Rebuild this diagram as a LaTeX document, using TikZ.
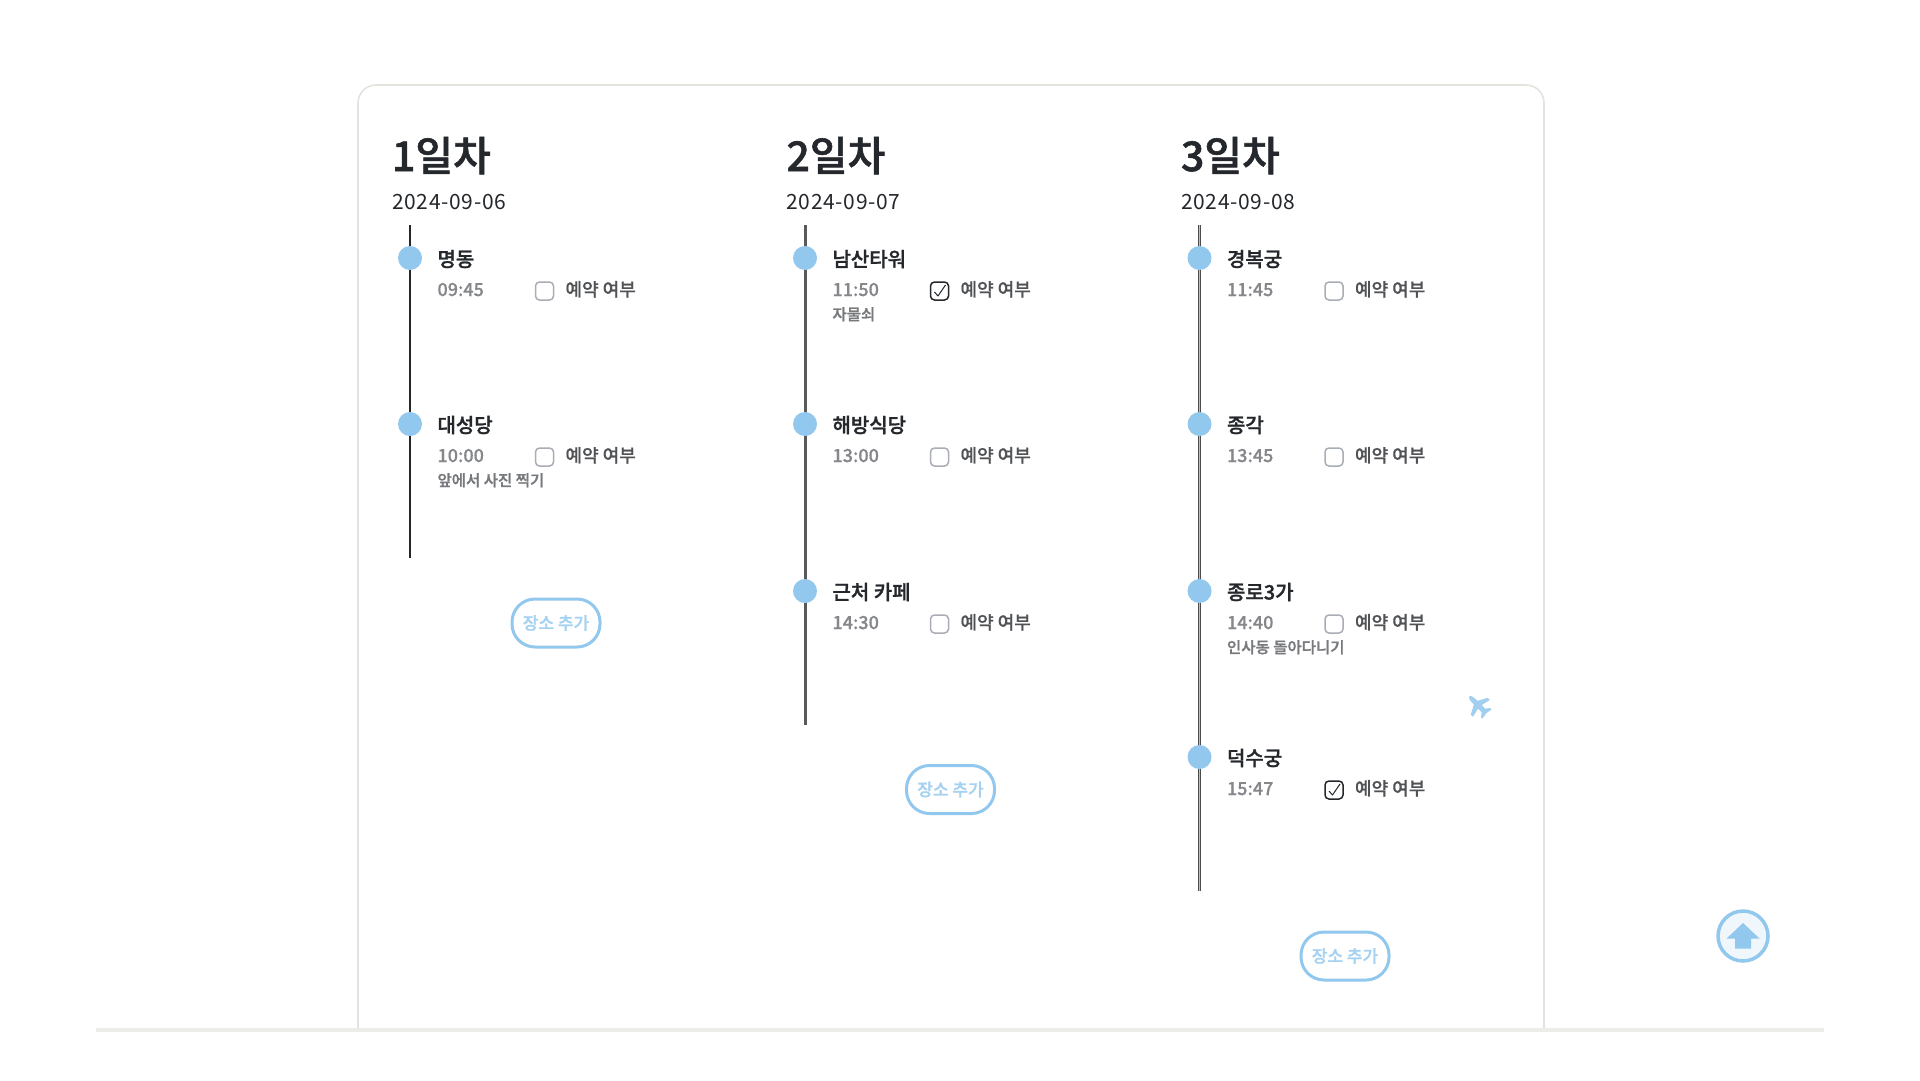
\documentclass[tikz,border=0pt]{standalone}
\usepackage{fontspec}
\setmainfont{Noto Sans CJK KR}
\newfontfamily\kmed{Noto Sans CJK KR Medium}[FakeBold=0.5]
\newfontfamily\ksemi{Noto Sans CJK KR Medium}[FakeBold=1.3]
\newfontfamily\kdate{Noto Sans CJK KR}[LetterSpace=3.3]
\definecolor{skyb}{HTML}{92C7EE}
\definecolor{skyt}{HTML}{A6D2F1}
\definecolor{cardline}{HTML}{E4E4DE}
\definecolor{inkd}{HTML}{24272B}
\definecolor{timeg}{HTML}{85878A}
\definecolor{noteg}{HTML}{77797C}
\definecolor{boxg}{HTML}{A9ADB6}
\tikzset{
  x=1pt,y=-1pt,
  every node/.style={inner sep=0pt,outer sep=0pt},
  title/.style={anchor=base west,font=\ksemi\fontsize{41}{41}\selectfont,text=inkd},
  datet/.style={anchor=base west,font=\kdate\fontsize{21}{21}\selectfont,text=inkd},
  place/.style={anchor=base west,font=\ksemi\fontsize{20}{20}\selectfont,text=inkd},
  timet/.style={anchor=base west,font=\kmed\fontsize{18}{18}\selectfont,text=timeg},
  note/.style={anchor=base west,font=\ksemi\fontsize{15.5}{15.5}\selectfont,text=noteg},
  resv/.style={anchor=base west,font=\kmed\fontsize{18}{18}\selectfont,text=inkd!80},
  dot/.style={circle,fill=skyb,minimum size=24pt},
  tbox/.style={draw=boxg,line width=1.5pt,rounded corners=4pt,fill=white,minimum size=18pt},
  tboxon/.style={draw=inkd,line width=1.5pt,rounded corners=4pt,fill=white,minimum size=18pt},
  addbtn/.style={draw=skyb,line width=3pt,rounded corners=23pt,minimum width=88pt,minimum height=48pt,fill=white,
     font=\ksemi\fontsize{17}{17}\selectfont,text=skyt},
  tlineone/.style={line width=2.8pt,draw=black!85},
  tlinetwo/.style={line width=3pt,draw=black!65},
  tlinethree/.style={line width=1.2pt,double=black!25,double distance=1.2pt,draw=black!70},
}
% \stopitem{id}{x}{y}{place}{time}{note}{box style}
\newcommand{\stopitem}[7]{%
  \node[dot] (d#1) at (#2,#3) {};
  \node[place] (p#1) at (#2+27.5,#3+8.5) {#4};
  \node[timet] (t#1) at (#2+27.5,#3+38) {#5};
  \node[#7] (b#1) at (#2+134.5,#3+33) {};
  \node[resv] (r#1) at (#2+155.5,#3+38) {예약 여부};
  \node[note] (n#1) at (#2+27.5,#3+62) {#6};
}
\newcommand{\chk}[1]{%
  \draw[inkd,line width=1pt,line join=round] ([shift={(-5,1)}]b#1.center) -- ([shift={(-1.5,5)}]b#1.center) -- ([shift={(6,-6)}]b#1.center);
}
\begin{document}
\begin{tikzpicture}
\useasboundingbox (0,0) rectangle (1920,1080);
\fill[white] (0,0) rectangle (1920,1080);
% card
\draw[cardline,line width=1.6pt,rounded corners=18pt] (358,1028) -- (358,85) -- (1544,85) -- (1544,1028);
% footer
\fill[cardline!70] (96,1028) rectangle (1824,1032);
% column heads
\node[title] (h1) at (392,171) {1일차};
\node[datet] (e1) at (392,209) {2024-09-06};
\node[title] (h2) at (786.5,171) {2일차};
\node[datet] (e2) at (786.5,209) {2024-09-07};
\node[title] (h3) at (1181,171) {3일차};
\node[datet] (e3) at (1181,209) {2024-09-08};
% timelines
\coordinate (s1) at (410,225); \coordinate (f1) at (410,558);
\coordinate (s2) at (805,225); \coordinate (f2) at (805,725);
\coordinate (s3) at (1199.5,225); \coordinate (f3) at (1199.5,891);
\draw[tlineone] (s1) -- (f1);
\draw[tlinetwo] (s2) -- (f2);
\draw[tlinethree] (s3) -- (f3);
% column 1
\stopitem{a}{410}{258}{명동}{09:45}{}{tbox}
\stopitem{b}{410}{424}{대성당}{10:00}{앞에서 사진 찍기}{tbox}
% column 2
\stopitem{c}{805}{258}{남산타워}{11:50}{자물쇠}{tboxon}\chk{c}
\stopitem{d}{805}{424}{해방식당}{13:00}{}{tbox}
\stopitem{e}{805}{591}{근처 카페}{14:30}{}{tbox}
% column 3
\stopitem{f}{1199.5}{258}{경복궁}{11:45}{}{tbox}
\stopitem{g}{1199.5}{424}{종각}{13:45}{}{tbox}
\stopitem{h}{1199.5}{591}{종로3가}{14:40}{인사동 돌아다니기}{tbox}
\stopitem{i}{1199.5}{757}{덕수궁}{15:47}{}{tboxon}\chk{i}
% buttons
\node[addbtn] (add1) at (556,623) {\raisebox{1pt}{장소 추가}};
\node[addbtn] (add2) at (950.5,789.5) {\raisebox{1pt}{장소 추가}};
\node[addbtn] (add3) at (1345,956) {\raisebox{1pt}{장소 추가}};
% plane
\begin{scope}[shift={(1478.5,705.5)},rotate=-45,x=1pt,y=-1pt]
  \fill[skyb!85,line join=round] (-13,0) .. controls (-12,-2.5) and (-9,-2.5) .. (-4,-2.5)
    -- (1,-12) -- (4,-12) -- (2,-2.5) -- (7,-2.5) -- (10,-6.5) -- (12,-6.5) -- (11,0)
    -- (12,6.5) -- (10,6.5) -- (7,2.5) -- (2,2.5) -- (4,12) -- (1,12) -- (-4,2.5)
    .. controls (-9,2.5) and (-12,2.5) .. (-13,0) -- cycle;
\end{scope}
% to-top button
\node[circle,draw=skyb,line width=3.5pt,fill=skyb!15,minimum size=50pt] (topb) at (1743,936) {};
\fill[skyb] (1743,923) -- (1759.5,938.5) -- (1751,938.5) -- (1751,948.5) -- (1735,948.5) -- (1735,938.5) -- (1726.5,938.5) -- cycle;
\end{tikzpicture}
\end{document}
